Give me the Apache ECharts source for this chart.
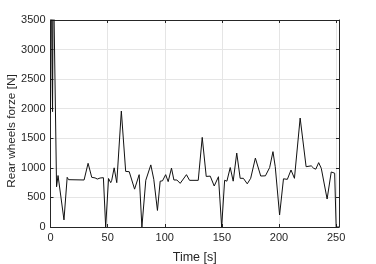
<!DOCTYPE html>
<html>
<head>
<meta charset="utf-8">
<script src="https://cdn.jsdelivr.net/npm/echarts@6/dist/echarts.min.js"></script>
<style>
html,body{margin:0;padding:0;background:#fff;}
#c{width:376px;height:264px;}
</style>
</head>
<body>
<div id="c"></div>
<script>
// time [s]
var times = [0,1,1.8,2.4,5.3,6.6,8.2,11.8,14.6,15.8,29.4,32.9,36.1,37.5,39,41,43.4,44.9,46.3,48.3,49.2,50.8,52.7,53.6,55.7,58,62,65.8,68.9,73.6,77.6,80,83.4,85,87.8,90.4,93.6,96,98,100.8,103,105.9,108,110.6,113.5,119,121.7,129.3,132.8,136.3,139.8,143.3,147,149.8,152.4,154.4,157.3,159.9,163,166,168.8,172.2,175.2,179.3,184,188.1,191.8,194.7,196.7,200.5,203.9,207.3,210.5,213.5,218.5,223.7,228.2,230.4,232.2,234.7,237,238.5,242.1,245.7,248.7,250,252.5];
// rear wheels force [N]
var forces = [1920,4500,1950,4500,680,870,880,120,840,800,795,1077,840,850,830,811,828,811,834,0,0,820,750,790,1000,750,1960,940,935,640,885,0,790,780,1050,806,280,775,780,885,767,995,795,795,738,885,789,789,1515,855,860,693,850,0,790,775,1005,775,1250,823,823,730,823,1165,862,865,1005,1274,1020,203,815,806,964,823,1842,1020,1034,992,978,1088,992,964,473,930,910,0,0];
var xTicks = [0,50,100,150,200,250];
var yTicks = [0,500,1000,1500,2000,2500,3000,3500];
var xName = 'Time [s]';
var yName = 'Rear wheels forze [N]';

var pts = times.map(function(t,i){return [t, forces[i]];});
var chart = echarts.init(document.getElementById('c'), null, {renderer:'canvas'});
var font = 'Liberation Sans, Arial, Helvetica, sans-serif';
var axisCol = '#262626';
var gridCol = '#e5e5e5';
chart.setOption({
  animation:false,
  backgroundColor:'#fff',
  grid:{left:50.5, right:37, top:20, bottom:37, containLabel:false, outerBoundsMode:'none'},
  graphic:[{
    type:'text', x:12, y:131, rotation:Math.PI/2,
    style:{text:yName, align:'center', verticalAlign:'middle', fill:axisCol,
      font:'11.8px Liberation Sans, Arial, sans-serif'}
  }],
  xAxis:[{
    type:'value', min:0, max:252.5, interval:50,
    name:xName, nameLocation:'middle', nameGap:24,
    nameTextStyle:{color:axisCol, fontSize:12.5, fontFamily:font},
    axisLine:{show:true, onZero:false, lineStyle:{color:axisCol, width:1}},
    axisTick:{show:true, inside:true, length:3, lineStyle:{color:axisCol}},
    axisLabel:{color:axisCol, fontSize:11, fontFamily:font, margin:5, showMaxLabel:false,
      formatter:function(v){return xTicks.indexOf(v)>=0? String(v):'';}},
    splitLine:{show:true, lineStyle:{color:gridCol, width:1}}
  },{
    type:'value', min:0, max:252.5, interval:50, position:'top',
    axisLine:{show:true, onZero:false, lineStyle:{color:axisCol, width:1}},
    axisTick:{show:true, inside:true, length:3, lineStyle:{color:axisCol}},
    axisLabel:{show:false}, splitLine:{show:false}
  }],
  yAxis:[{
    type:'value', min:0, max:3500, interval:500,
    axisLine:{show:true, onZero:false, lineStyle:{color:axisCol, width:1}},
    axisTick:{show:true, inside:true, length:3, lineStyle:{color:axisCol}},
    axisLabel:{color:axisCol, fontSize:11, fontFamily:font, margin:5,
      formatter:function(v){return yTicks.indexOf(v)>=0? String(v):'';}},
    splitLine:{show:true, lineStyle:{color:gridCol, width:1}}
  },{
    type:'value', min:0, max:3500, interval:500, position:'right',
    axisLine:{show:true, onZero:false, lineStyle:{color:axisCol, width:1}},
    axisTick:{show:true, inside:true, length:3, lineStyle:{color:axisCol}},
    axisLabel:{show:false}, splitLine:{show:false}
  }],
  series:[{
    type:'line', data:pts, xAxisIndex:0, yAxisIndex:0,
    showSymbol:false, symbol:'none', smooth:false, clip:true,
    lineStyle:{color:'#111', width:1}
  }]
});
</script>
</body>
</html>
